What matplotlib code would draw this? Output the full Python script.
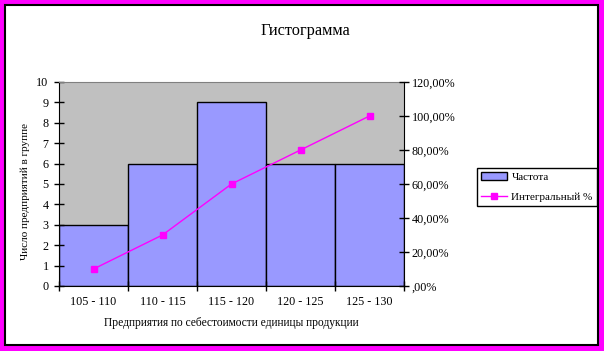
import matplotlib
matplotlib.use('Agg')
import matplotlib.pyplot as plt
from matplotlib.patches import Rectangle, Patch
from matplotlib.lines import Line2D
from matplotlib.ticker import FuncFormatter

categories = ['105 - 110', '110 - 115', '115 - 120', '120 - 125', '125 - 130']
counts = [3, 6, 9, 6, 6]
cumulative = [0.10, 0.30, 0.60, 0.80, 1.00]

plt.rcParams['font.family'] = ['Liberation Serif', 'DejaVu Serif']
plt.rcParams['font.size'] = 8

W, H = 604, 351
fig = plt.figure(figsize=(W / 100, H / 100), dpi=100)
fig.patch.set_facecolor('#FF00FF')

# white chart area with black frame inside the magenta border
fig.patches.append(Rectangle((5 / W, 6 / H), 593 / W, 340 / H, transform=fig.transFigure,
                             facecolor='white', edgecolor='black', linewidth=1.5, zorder=-5))

ax = fig.add_axes([59 / W, 1 - 286 / H, 345 / W, 204 / H])
ax.set_facecolor('#C0C0C0')
x = list(range(len(categories)))
ax.bar(x, counts, width=1.0, color='#9999FF', edgecolor='black', linewidth=1)
ax.set_xlim(-0.5, len(categories) - 0.5)
ax.set_ylim(0, 10)
ax.set_yticks(range(0, 11))
ax.set_xticks([i - 0.5 for i in range(len(categories) + 1)], minor=False)
ax.set_xticklabels([])
ax.set_xticks(x, minor=True)
ax.set_xticklabels(categories, minor=True)
ax.tick_params(axis='x', which='major', direction='inout', length=7, width=1)
ax.tick_params(axis='x', which='minor', length=0, pad=7, labelsize=8.7)
ax.tick_params(axis='y', direction='inout', length=7, width=1, pad=4, labelsize=8.7)
ax.spines['top'].set_color('#808080')
ax.spines['right'].set_visible(False)

ax2 = ax.twinx()
ax2.plot(x, cumulative, color='#FF00FF', linewidth=1, marker='s', markersize=5)
ax2.set_ylim(0, 1.2)
ax2.set_yticks([0, 0.2, 0.4, 0.6, 0.8, 1.0, 1.2])
ax2.yaxis.set_major_formatter(FuncFormatter(
    lambda v, p: ',00%' if v == 0 else f'{v * 100:.2f}%'.replace('.', ',')))
ax2.tick_params(axis='y', direction='inout', length=7, width=1, pad=2, labelsize=8.7)
ax2.spines['top'].set_visible(False)
ax2.spines['left'].set_visible(False)
ax2.spines['bottom'].set_visible(False)

fig.text(305 / W, 1 - 31 / H, 'Гистограмма', ha='center', va='center', fontsize=11.8)
fig.text(231 / W, 1 - 323 / H, 'Предприятия по себестоимости единицы продукции',
         ha='center', va='center', fontsize=8.3)
fig.text(25 / W, 1 - 192 / H, 'Число предприятий в группе', rotation=90,
         ha='center', va='center', fontsize=8)

handles = [Patch(facecolor='#9999FF', edgecolor='black'),
           Line2D([0], [0], color='#FF00FF', marker='s', markersize=5, linewidth=1)]
leg = fig.legend(handles, ['Частота', 'Интегральный %'], loc='upper left',
                 bbox_to_anchor=(477 / W, 1 - 168 / H), fontsize=8, fancybox=False,
                 framealpha=1, borderpad=0.4, handlelength=2.3, handletextpad=0.4,
                 labelspacing=0.9, borderaxespad=0)
leg.get_frame().set_edgecolor('black')
leg.get_frame().set_linewidth(1)

fig.savefig('out.png', dpi=100, facecolor=fig.get_facecolor())
